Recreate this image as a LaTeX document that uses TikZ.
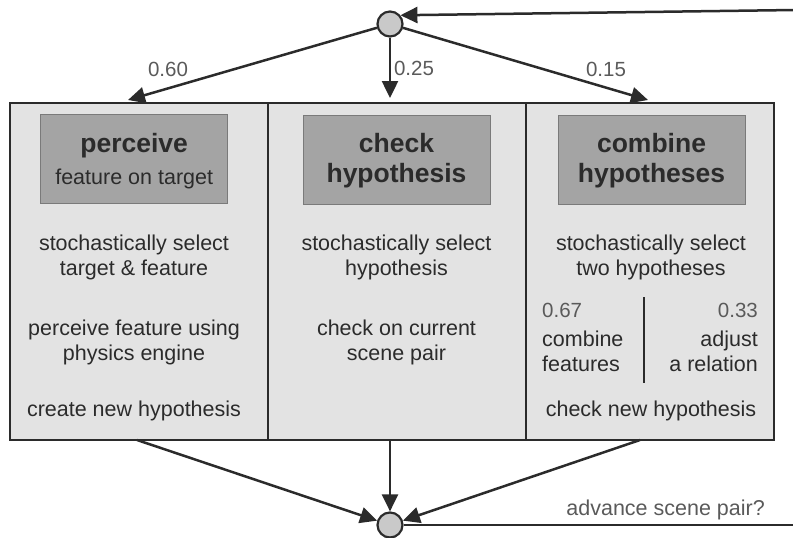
\documentclass[tikz,border=0pt]{standalone}
\usepackage{fontspec}
\setmainfont{Liberation Sans}
\usetikzlibrary{arrows.meta}
\definecolor{boxfill}{HTML}{E3E3E3}
\definecolor{headfill}{HTML}{A4A4A4}
\definecolor{headline}{HTML}{7A7A7A}
\definecolor{circfill}{HTML}{C9C9C9}
\definecolor{ink}{HTML}{2B2B2B}
\definecolor{soft}{HTML}{5A5A5A}
\begin{document}
\begin{tikzpicture}[x=1pt,y=-1pt,
 col/.style={draw=ink, line width=2.4pt, fill=boxfill, inner sep=0, minimum height=337pt},
 head/.style={draw=headline, line width=1pt, fill=headfill, inner sep=0, minimum width=187pt, minimum height=89pt},
 dot/.style={circle, draw=ink, line width=2.2pt, fill=circfill, minimum size=25pt, inner sep=0},
 flow/.style={draw=ink, line width=2.5pt, -{Triangle[length=17pt,width=16pt]}},
 plain/.style={draw=ink, line width=2.4pt},
 bodytxt/.style={font=\fontsize{21.5}{25}\selectfont, text=ink, anchor=base, inner sep=0},
 titletxt/.style={font=\fontsize{26.5}{30}\selectfont\bfseries, text=ink, anchor=base, inner sep=0},
 prob/.style={font=\fontsize{20.5}{24}\selectfont, text=soft, anchor=base, inner sep=0},
]
\useasboundingbox (0,0) rectangle (793,538);

% columns
\node[col, minimum width=258pt] (col1) at (139,271.5) {};
\node[col, minimum width=258pt] (col2) at (397,271.5) {};
\node[col, minimum width=248pt] (col3) at (650,271.5) {};

% headers
\node[head] (h1) at (134.2,158.5) {};
\node[head] (h2) at (396.5,159.5) {};
\node[head] (h3) at (651.5,159.5) {};

\node[titletxt] (p1) at (134.2,152) {perceive};
\node[bodytxt] (p2) at (134.2,184) {feature on target};
\node[titletxt] (c1) at (396.5,152) {check};
\node[titletxt] (c2) at (396.5,182) {hypothesis};
\node[titletxt] (m1) at (651.5,152) {combine};
\node[titletxt] (m2) at (651.5,182) {hypotheses};

% left column body
\node[bodytxt] (l1) at (134,250) {stochastically select};
\node[bodytxt] (l2) at (134,275) {target \& feature};
\node[bodytxt] (l3) at (134,335.7) {perceive feature using};
\node[bodytxt] (l4) at (134,360.7) {physics engine};
\node[bodytxt] (l5) at (134,416.7) {create new hypothesis};

% middle column body
\node[bodytxt] (k1) at (396.5,250) {stochastically select};
\node[bodytxt] (k2) at (396.5,275) {hypothesis};
\node[bodytxt] (k3) at (396.5,335.7) {check on current};
\node[bodytxt] (k4) at (396.5,360.7) {scene pair};

% right column body
\node[bodytxt] (r1) at (651,250) {stochastically select};
\node[bodytxt] (r2) at (651,275) {two hypotheses};
\node[prob, anchor=base west] (r3) at (542,317.3) {0.67};
\node[bodytxt, anchor=base west] (r4) at (542,346.7) {combine};
\node[bodytxt, anchor=base west] (r5) at (542,371.7) {features};
\node[prob, anchor=base east] (r6) at (758,317.3) {0.33};
\node[bodytxt, anchor=base east] (r7) at (758,346.7) {adjust};
\node[bodytxt, anchor=base east] (r8) at (758,371.7) {a relation};
\node[bodytxt] (r9) at (651,416.7) {check new hypothesis};
\coordinate (sepA) at (644,297);
\coordinate (sepB) at (644,383);
\draw[plain] (sepA) -- (sepB);

% circles
\node[dot] (top) at (390,24) {};
\node[dot] (bot) at (390,525) {};

% top arrows
\coordinate (a1) at (128,100);
\coordinate (a2) at (390,98);
\coordinate (a3) at (648,100);
\draw[flow] (top) -- (a1);
\draw[flow] (top) -- (a2);
\draw[flow] (top) -- (a3);
\node[prob] (q1) at (168,76) {0.60};
\node[prob] (q2) at (414,75) {0.25};
\node[prob] (q3) at (606,76) {0.15};

% bottom arrows
\coordinate (b1) at (137,440);
\coordinate (b2) at (390,440);
\coordinate (b3) at (640,440);
\draw[flow] (b1) -- (bot);
\draw[flow] (b2) -- (bot);
\draw[flow] (b3) -- (bot);

% feedback loop
\coordinate (fbbot) at (795,525);
\coordinate (fbtop) at (795,10);
\draw[plain] (bot) -- (fbbot);
\draw[flow] (fbtop) -- (top.40);
\node[prob, font=\fontsize{21.5}{25}\selectfont, anchor=base east] (adv) at (765,515) {advance scene pair?};
\end{tikzpicture}
\end{document}
